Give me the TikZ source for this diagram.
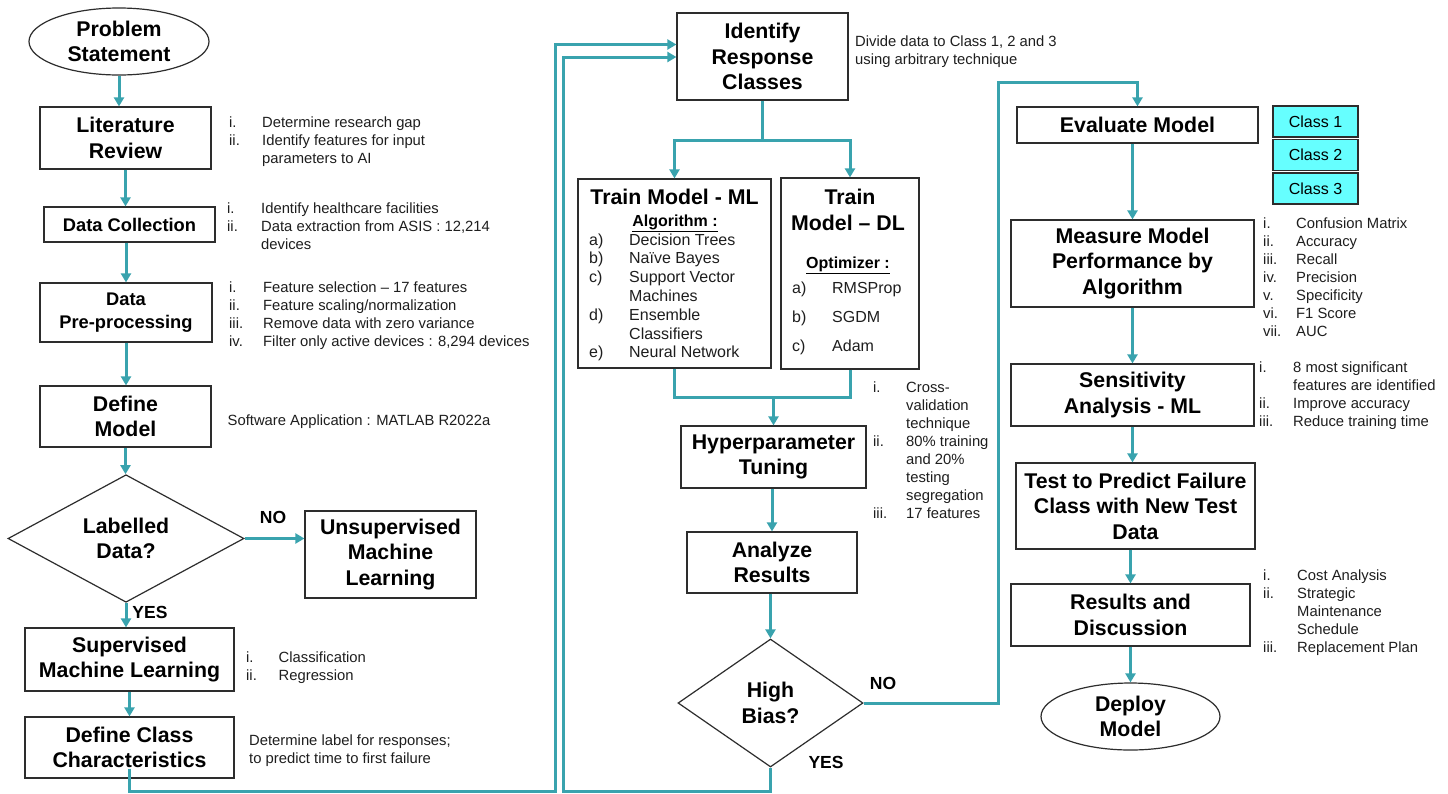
\documentclass[tikz,border=0pt]{standalone}
\usepackage{fontspec}
\setmainfont{Liberation Sans}
\usetikzlibrary{shapes.geometric,arrows.meta}
\definecolor{flowc}{RGB}{57,163,174}
\definecolor{boxc}{RGB}{45,45,45}
\definecolor{clsfill}{RGB}{102,255,255}
\definecolor{txtc}{RGB}{30,30,30}
\newcommand{\ttlfnt}{\fontsize{21.3}{25.5}\selectfont\bfseries}
\newcommand{\midfnt}{\fontsize{18.3}{23}\selectfont\bfseries}
\newcommand{\notefnt}{\fontsize{14.8}{18}\selectfont}
\newcommand{\lblfnt}{\fontsize{17.5}{20}\selectfont\bfseries}
\newcommand{\lstt}[2]{\begin{tabular}[t]{@{}p{#1}@{}l@{}}#2\end{tabular}}
\newcommand{\linesl}[1]{\begin{tabular}[t]{@{}l@{}}#1\end{tabular}}
\begin{document}
\begin{tikzpicture}[x=1pt,y=-1pt,
 box/.style={draw=boxc,line width=1.2pt,rectangle,align=center,inner sep=0pt,font=\ttlfnt,text=black},
 midbox/.style={box,font=\midfnt},
 oval/.style={box,ellipse},
 dia/.style={box,diamond},
 conn/.style={draw=flowc,line width=3pt},
 arr/.style={conn,-{Triangle[length=9pt,width=10pt]}},
 note/.style={anchor=base west,inner sep=0pt,font=\notefnt,text=txtc},
 lbl/.style={inner sep=0pt,font=\lblfnt},
 clsbox/.style={draw=boxc,line width=1.2pt,fill=clsfill,minimum width=85pt,minimum height=31pt,inner sep=0pt,font=\fontsize{16}{19}\selectfont}]
\fill[white] (0,0) rectangle (1448,793);
\useasboundingbox (0,0) rectangle (1448,793);

% ---------- left column ----------
\node[oval,minimum width=180pt,minimum height=67pt] (ps) at (119,41.5) {Problem\\Statement};
\node[box,minimum width=171pt,minimum height=62pt] (lr) at (125.5,138) {Literature\\Review};
\node[midbox,minimum width=171pt,minimum height=35pt] (dc) at (129.5,224.5) {Data Collection};
\node[midbox,minimum width=172pt,minimum height=59pt] (dp) at (126,312.5) {Data\\Pre-processing};
\node[box,minimum width=171pt,minimum height=61pt] (dm) at (125.5,416.5) {Define\\Model};
\node[dia,minimum width=236pt,minimum height=109pt] (lab) at (126,538.5) {Labelled\\Data?};
\node[box,minimum width=171pt,minimum height=87pt] (un) at (390.5,554.5) {Unsupervised\\Machine\\Learning};
\node[box,minimum width=209pt,minimum height=63pt] (sup) at (129.5,659.5) {Supervised\\Machine Learning};
\node[box,minimum width=209pt,minimum height=61pt] (dcc) at (129.5,747.5) {Define Class\\Characteristics};

\node[note] (lrn) at (229,127) {\lstt{33pt}{i. & Determine research gap\\ ii. & Identify features for input\\ & parameters to AI}};
\node[note] (dcn) at (227,213) {\lstt{34pt}{i. & Identify healthcare facilities\\ ii. & Data extraction from ASIS : 12,214\\ & devices}};
\node[note] (dpn) at (229,292) {\lstt{34pt}{i. & Feature selection – 17 features\\ ii. & Feature scaling/normalization\\ iii. & Remove data with zero variance\\ iv. & Filter only active devices : 8,294 devices}};
\node[note] (dmn) at (227.5,425) {Software Application : MATLAB R2022a};
\node[note] (supn) at (246,662) {\lstt{32.5pt}{i. & Classification\\ ii. & Regression}};
\node[note] (dccn) at (249,745) {\linesl{Determine label for responses;\\ to predict time to first failure}};

\node[lbl] (no1) at (273,517) {NO};
\node[lbl] (yes1) at (150,612) {YES};

% ---------- middle column ----------
\node[box,minimum width=171pt,minimum height=87pt] (irc) at (762.5,56.5) {Identify\\Response\\Classes};
\node[note] (ircn) at (855,46) {\linesl{Divide data to Class 1, 2 and 3\\ using arbitrary technique}};

\node[box,minimum width=193pt,minimum height=189pt] (ml) at (674.5,273.5) {};
\node[inner sep=0pt,font=\ttlfnt,anchor=base] (mlt) at (674.5,204) {Train Model - ML};
\node[inner sep=0pt,font=\fontsize{16}{19}\selectfont\bfseries,anchor=base] (mla) at (675,226) {\underline{Algorithm :}};
\node[anchor=base west,inner sep=0pt,font=\fontsize{16}{18.8}\selectfont,text=txtc] (mll) at (589,245) {\lstt{40pt}{a) & Decision Trees\\ b) & Naïve Bayes\\ c) & Support Vector\\ & Machines\\ d) & Ensemble\\ & Classifiers\\ e) & Neural Network}};

\node[box,minimum width=138pt,minimum height=191pt] (dl) at (850,273.5) {};
\node[inner sep=0pt,font=\ttlfnt,anchor=base] (dlt1) at (850,204) {Train};
\node[inner sep=0pt,font=\ttlfnt,anchor=base] (dlt2) at (848,230) {Model – DL};
\node[inner sep=0pt,font=\fontsize{16}{19}\selectfont\bfseries,anchor=base] (dlo) at (848,268) {\underline{Optimizer :}};
\node[anchor=base west,inner sep=0pt,font=\fontsize{16}{29}\selectfont,text=txtc] (dll) at (792,293) {\lstt{40pt}{a) & RMSProp\\ b) & SGDM\\ c) & Adam}};

\node[box,minimum width=185pt,minimum height=62pt] (hp) at (773.5,457) {Hyperparameter\\Tuning};
\node[note] (hpn) at (873,392) {\lstt{33pt}{i. & Cross-\\ & validation\\ & technique\\ ii. & 80\% training\\ & and 20\%\\ & testing\\ & segregation\\ iii. & 17 features}};
\node[box,minimum width=170pt,minimum height=61pt] (ar) at (772,562.5) {Analyze\\Results};
\node[dia,minimum width=185pt,minimum height=128pt] (hb) at (770.5,703) {High\\Bias?};
\node[lbl] (no2) at (883,683) {NO};
\node[lbl] (yes2) at (826,762) {YES};

% ---------- right column ----------
\node[box,minimum width=241pt,minimum height=36pt] (ev) at (1137.5,125) {Evaluate Model};
\node[clsbox] (c1) at (1315.5,121.5) {Class 1};
\node[clsbox] (c2) at (1315.5,155) {Class 2};
\node[clsbox] (c3) at (1315.5,188.5) {Class 3};
\node[box,minimum width=243pt,minimum height=87pt] (me) at (1132.5,263.5) {Measure Model\\Performance by\\Algorithm};
\node[note] (men) at (1263,228) {\lstt{33pt}{i. & Confusion Matrix\\ ii. & Accuracy\\ iii. & Recall\\ iv. & Precision\\ v. & Specificity\\ vi. & F1 Score\\ vii. & AUC}};
\node[box,minimum width=243pt,minimum height=62pt] (sa) at (1132.5,395) {Sensitivity\\Analysis - ML};
\node[note] (san) at (1259,372) {\lstt{34pt}{i. & 8 most significant\\ & features are identified\\ ii. & Improve accuracy\\ iii. & Reduce training time}};
\node[box,minimum width=239pt,minimum height=86pt] (tp) at (1135.5,506) {Test to Predict Failure\\Class with New Test\\Data};
\node[box,minimum width=239pt,minimum height=62pt] (rd) at (1130.5,615) {Results and\\Discussion};
\node[note] (rdn) at (1263,580) {\lstt{34pt}{i. & Cost Analysis\\ ii. & Strategic\\ & Maintenance\\ & Schedule\\ iii. & Replacement Plan}};
\node[oval,minimum width=179pt,minimum height=67pt] (dep) at (1130.5,716.5) {Deploy\\Model};

% ---------- connectors ----------
\draw[arr] (ps.south) -- (ps.south |- lr.north);
\draw[arr] (lr.south) -- (lr.south |- dc.north);
\draw[arr] (dp.north |- dc.south) -- (dp.north);
\draw[arr] (dp.south) -- (dp.south |- dm.north);
\draw[arr] (dm.south) -- (dm.south |- lab.north);
\draw[arr] (lab.east) -- (lab.east -| un.west);
\draw[arr] (lab.south) -- (lab.south |- sup.north);
\draw[arr] (sup.south) -- (dcc.north);

\coordinate (la) at (555,791.5);
\coordinate (lat) at (555,44.5);
\draw[arr] ([yshift=10pt]dcc.south) |- (la) -- (lat) -- (lat -| irc.west);

\coordinate (spl) at (762.5,140);
\draw[conn] (irc.south) -- (spl);
\draw[arr] (spl) -| (ml.north);
\draw[arr] (spl) -| (dl.north);
\coordinate (mrg) at (773.5,397);
\draw[conn] (ml.south) |- (mrg);
\draw[conn] (dl.south) |- (mrg);
\draw[arr] (mrg) -- (hp.north);
\draw[arr] (ar.north |- hp.south) -- (ar.north);
\draw[arr] (hb.north |- ar.south) -- (hb.north);

\coordinate (lb) at (563,791.5);
\coordinate (lbt) at (563,57);
\draw[arr] (hb.south) |- (lb) -- (lbt) -- (lbt -| irc.west);

\coordinate (nturn) at (998,82);
\draw[arr] (hb.east) -| (nturn) -| (ev.north);

\draw[arr] (me.north |- ev.south) -- (me.north);
\draw[arr] (me.south) -- (sa.north);
\draw[arr] (sa.south) -- (sa.south |- tp.north);
\draw[arr] (rd.north |- tp.south) -- (rd.north);
\draw[arr] (rd.south) -- (dep.north);
\end{tikzpicture}
\end{document}
